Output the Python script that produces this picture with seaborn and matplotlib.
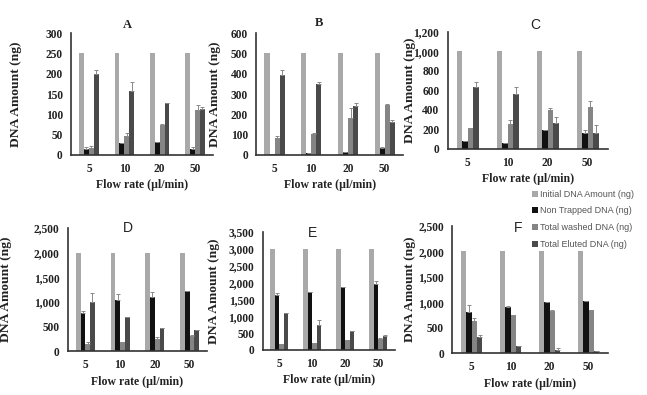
import numpy as np
import pandas as pd
import matplotlib
matplotlib.use("Agg")
import matplotlib.pyplot as plt
import seaborn as sns
from matplotlib.patches import Patch
from matplotlib.ticker import FuncFormatter, MultipleLocator

# flow rates (ul/min) and the four measured series
rates = ["5", "10", "20", "50"]
series = ["Initial DNA Amount (ng)", "Non Trapped DNA (ng)",
          "Total washed DNA (ng)", "Total Eluted DNA (ng)"]
colors = ["#a9a9a9", "#111111", "#858585", "#4a4a4a"]

# panel A
a_initial = [250, 250, 250, 250]
a_nontrap = [15, 30, 32, 15]
a_washed = [17, 47, 73, 110]
a_eluted = [200, 157, 128, 113]
a_err_nontrap = [5, 0, 0, 5]
a_err_washed = [5, 8, 3, 12]
a_err_eluted = [10, 22, 0, 5]

# panel B
b_initial = [500, 500, 500, 500]
b_nontrap = [5, 8, 15, 35]
b_washed = [85, 105, 180, 245]
b_eluted = [395, 350, 243, 160]
b_err_nontrap = [0, 0, 0, 5]
b_err_washed = [8, 5, 50, 8]
b_err_eluted = [22, 8, 12, 12]

# panel C
c_initial = [1000, 1000, 1000, 1000]
c_nontrap = [80, 65, 195, 160]
c_washed = [210, 260, 400, 430]
c_eluted = [640, 560, 270, 160]
c_err_nontrap = [0, 0, 0, 30]
c_err_washed = [0, 35, 15, 60]
c_err_eluted = [45, 80, 60, 90]

# panel D
d_initial = [2000, 2000, 2000, 2000]
d_nontrap = [770, 1030, 1090, 1230]
d_washed = [150, 190, 250, 310]
d_eluted = [1000, 690, 470, 420]
d_err_nontrap = [50, 120, 120, 0]
d_err_washed = [30, 0, 30, 20]
d_err_eluted = [170, 0, 0, 0]

# panel E
e_initial = [3000, 3000, 3000, 3000]
e_nontrap = [1640, 1730, 1860, 1950]
e_washed = [170, 200, 290, 330]
e_eluted = [1100, 730, 570, 400]
e_err_nontrap = [60, 0, 0, 80]
e_err_washed = [0, 0, 0, 30]
e_err_eluted = [0, 150, 0, 30]

# panel F
f_initial = [2000, 2000, 2000, 2000]
f_nontrap = [810, 900, 1010, 1030]
f_washed = [640, 750, 820, 850]
f_eluted = [320, 140, 70, 40]
f_err_nontrap = [130, 30, 0, 0]
f_err_washed = [50, 0, 20, 0]
f_err_eluted = [30, 0, 30, 0]

panels = [
    ("A", [a_initial, a_nontrap, a_washed, a_eluted], [a_err_nontrap, a_err_washed, a_err_eluted], 300, 50),
    ("B", [b_initial, b_nontrap, b_washed, b_eluted], [b_err_nontrap, b_err_washed, b_err_eluted], 600, 100),
    ("C", [c_initial, c_nontrap, c_washed, c_eluted], [c_err_nontrap, c_err_washed, c_err_eluted], 1200, 200),
    ("D", [d_initial, d_nontrap, d_washed, d_eluted], [d_err_nontrap, d_err_washed, d_err_eluted], 2500, 500),
    ("E", [e_initial, e_nontrap, e_washed, e_eluted], [e_err_nontrap, e_err_washed, e_err_eluted], 3500, 500),
    ("F", [f_initial, f_nontrap, f_washed, f_eluted], [f_err_nontrap, f_err_washed, f_err_eluted], 2500, 500),
]

# axes rectangles [left, bottom, width, height] in figure fraction
rects = [
    [0.110, 0.608, 0.219, 0.308],
    [0.396, 0.608, 0.227, 0.308],
    [0.692, 0.623, 0.247, 0.296],
    [0.105, 0.111, 0.215, 0.312],
    [0.406, 0.114, 0.204, 0.299],
    [0.699, 0.106, 0.241, 0.322],
]
title_x = [0.40, 0.43, 0.55, 0.43, 0.38, 0.42]
title_y = [1.066, 1.08, 1.06, 1.0, 0.99, 0.98]
ylabel_x = [-0.35, -0.24, -0.20, -0.40, -0.32, -0.23]

sns.set_theme(style="white")
serif = ["Liberation Serif", "DejaVu Serif"]
sans = ["Liberation Sans", "DejaVu Sans"]

fig = plt.figure(figsize=(6.47, 3.95), dpi=100)
fig.patch.set_facecolor("white")

for i, (name, vals, errs, ymax, step) in enumerate(panels):
    ax = fig.add_axes(rects[i])
    df = pd.DataFrame({
        "rate": rates * 4,
        "series": np.repeat(series, 4),
        "amount": np.concatenate(vals),
    })
    sns.barplot(data=df, x="rate", y="amount", hue="series", hue_order=series,
                palette=colors, width=0.55, errorbar=None, saturation=1,
                legend=False, ax=ax, edgecolor="none")

    # one-sided error bars on the last three series
    for cont, err in zip(ax.containers[1:], errs):
        xs = [b.get_x() + b.get_width() / 2 for b in cont]
        hs = [b.get_height() for b in cont]
        ax.errorbar(xs, hs, yerr=[np.zeros(4), err], fmt="none",
                    ecolor="#8a8a8a", elinewidth=0.7, capsize=1.3, capthick=0.7)

    ax.set_ylim(0, ymax)
    ax.set_xlim(-0.5, 3.5)
    ax.yaxis.set_major_locator(MultipleLocator(step))
    ax.yaxis.set_major_formatter(FuncFormatter(lambda v, p: f"{int(v):,}"))
    sns.despine(ax=ax)
    for s in ["left", "bottom"]:
        ax.spines[s].set_color("#333333")
        ax.spines[s].set_linewidth(1.2)
    ax.tick_params(axis="y", length=0, pad=6)
    ax.tick_params(axis="x", length=0, pad=6)
    for lab in ax.get_xticklabels() + ax.get_yticklabels():
        lab.set_family(serif)
        lab.set_fontweight("bold")
        lab.set_fontsize(8.3)
        lab.set_color("#222222")

    ax.set_xlabel("Flow rate (\u00b5l/min)", family=serif, fontweight="bold",
                  fontsize=8.5, color="#222222", labelpad=3)
    ax.set_ylabel("DNA Amount (ng)", family=serif, fontweight="bold",
                  fontsize=9.7, color="#222222")
    ax.yaxis.set_label_coords(ylabel_x[i], 0.5)

    if name in ("A", "B"):
        ax.text(title_x[i], title_y[i], name, transform=ax.transAxes, ha="center",
                va="center", family=serif, fontweight="bold", fontsize=9, color="#222222")
    else:
        ax.text(title_x[i], title_y[i], name, transform=ax.transAxes, ha="center",
                va="center", family=sans, fontsize=10, color="#222222")

handles = [Patch(facecolor=c, edgecolor="none") for c in colors]
fig.legend(handles, series, loc="upper left", bbox_to_anchor=(0.81, 0.54),
           frameon=False, prop={"family": sans, "size": 6.5},
           handlelength=0.6, handleheight=0.6, handletextpad=0.3,
           labelspacing=0.85, labelcolor="#555555")

fig.savefig("out.png", dpi=100, facecolor="white")
